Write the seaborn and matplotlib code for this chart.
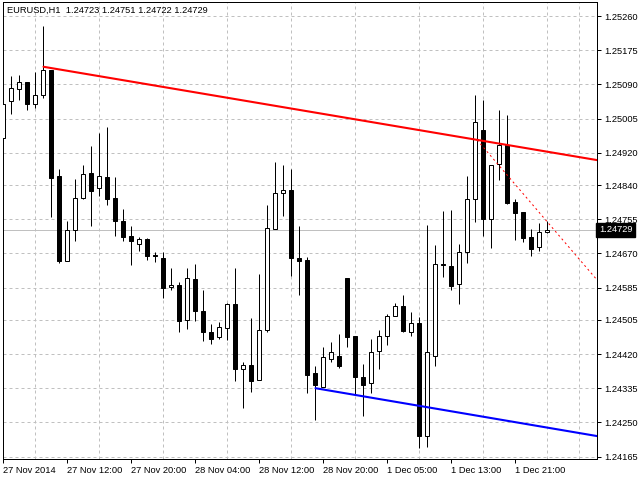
import numpy as np
import seaborn as sns
import matplotlib
matplotlib.use('Agg')
import matplotlib.pyplot as plt
import matplotlib.transforms as mtransforms

chart_title = 'EURUSD,H1  1.24723 1.24751 1.24722 1.24729'
last_price = 1.24729

# hourly candles, 27 Nov 2014 04:00 .. 2 Dec 2014 01:00
opens = [1.24957, 1.25049, 1.25079, 1.25096, 1.25041, 1.25064, 1.25126, 1.24862, 1.24651, 1.24728,
         1.24808, 1.24870, 1.24833, 1.24860, 1.24808, 1.24751, 1.24713, 1.24693, 1.24706, 1.24666,
         1.24659, 1.24587, 1.24592, 1.24505, 1.24606, 1.24527, 1.24475, 1.24462, 1.24485, 1.24544,
         1.24383, 1.24393, 1.24355, 1.24480, 1.24731, 1.24820, 1.24828, 1.24659, 1.24654, 1.24373,
         1.24338, 1.24408, 1.24415, 1.24609, 1.24465, 1.24363, 1.24348, 1.24428, 1.24465, 1.24515,
         1.24539, 1.24475, 1.24497, 1.24216, 1.24415, 1.24644, 1.24639, 1.24594, 1.24674, 1.24805,
         1.24977, 1.24756, 1.24892, 1.24939, 1.24798, 1.24773, 1.24711, 1.24686, 1.24723]
highs = [1.25043, 1.25111, 1.25113, 1.25096, 1.25121, 1.25235, 1.25126, 1.24880, 1.24751, 1.24855,
         1.24890, 1.24937, 1.24969, 1.24984, 1.24860, 1.24780, 1.24738, 1.24711, 1.24708, 1.24674,
         1.24674, 1.24634, 1.24599, 1.24634, 1.24644, 1.24579, 1.24495, 1.24500, 1.24547, 1.24634,
         1.24400, 1.24510, 1.24619, 1.24790, 1.24897, 1.24890, 1.24880, 1.24738, 1.24661, 1.24390,
         1.24437, 1.24450, 1.24470, 1.24609, 1.24465, 1.24395, 1.24457, 1.24480, 1.24520, 1.24547,
         1.24567, 1.24524, 1.24512, 1.24741, 1.24691, 1.24775, 1.24778, 1.24693, 1.24862, 1.25064,
         1.25051, 1.24890, 1.25026, 1.25014, 1.24805, 1.24773, 1.24731, 1.24746, 1.24751]
lows = [1.24955, 1.25016, 1.25051, 1.25026, 1.25031, 1.25056, 1.24760, 1.24646, 1.24651, 1.24701,
        1.24805, 1.24738, 1.24813, 1.24790, 1.24713, 1.24701, 1.24641, 1.24676, 1.24654, 1.24649,
        1.24559, 1.24579, 1.24475, 1.24482, 1.24502, 1.24452, 1.24445, 1.24457, 1.24455, 1.24353,
        1.24286, 1.24326, 1.24355, 1.24475, 1.24731, 1.24763, 1.24614, 1.24567, 1.24323, 1.24256,
        1.24338, 1.24400, 1.24385, 1.24437, 1.24321, 1.24266, 1.24323, 1.24383, 1.24442, 1.24515,
        1.24475, 1.24465, 1.24186, 1.24189, 1.24390, 1.24611, 1.24579, 1.24544, 1.24646, 1.24748,
        1.24713, 1.24683, 1.24852, 1.24793, 1.24703, 1.24698, 1.24664, 1.24676, 1.24722]
closes = [1.25041, 1.25081, 1.25096, 1.25041, 1.25064, 1.25126, 1.24857, 1.24651, 1.24728, 1.24808,
          1.24867, 1.24825, 1.24862, 1.24805, 1.24751, 1.24711, 1.24701, 1.24706, 1.24664, 1.24664,
          1.24584, 1.24592, 1.24502, 1.24609, 1.24527, 1.24475, 1.24457, 1.24487, 1.24544, 1.24383,
          1.24393, 1.24353, 1.24480, 1.24733, 1.24820, 1.24828, 1.24659, 1.24651, 1.24368, 1.24343,
          1.24413, 1.24425, 1.24390, 1.24462, 1.24363, 1.24343, 1.24425, 1.24465, 1.24515, 1.24539,
          1.24477, 1.24497, 1.24216, 1.24425, 1.24644, 1.24641, 1.24589, 1.24674, 1.24805, 1.24997,
          1.24756, 1.24890, 1.24939, 1.24795, 1.24770, 1.24708, 1.24681, 1.24723, 1.24729]

time_labels = ['27 Nov 2014', '27 Nov 12:00', '27 Nov 20:00', '28 Nov 04:00', '28 Nov 12:00',
               '28 Nov 20:00', '1 Dec 05:00', '1 Dec 13:00', '1 Dec 21:00']
label_bars = [0, 8, 16, 24, 32, 40, 48, 56, 64]
price_ticks = [1.25260, 1.25175, 1.25090, 1.25005, 1.24920, 1.24840, 1.24755,
               1.24670, 1.24585, 1.24505, 1.24420, 1.24335, 1.24250, 1.24165]

# trend lines: (bar index, price) anchors, extended to the right edge
red_line_x = [5, 74.2]
red_line_y = [1.25134, 1.24902]
blue_line_x = [39, 74.2]
blue_line_y = [1.24335, 1.24216]
dot_line_x = [59.2, 74.2]
dot_line_y = [1.24952, 1.24604]

sns.set_style('white')
plt.rcParams['font.family'] = ['Liberation Sans', 'DejaVu Sans']
px = 0.72  # one pixel in points at 100 dpi

fig = plt.figure(figsize=(6.4, 4.8), dpi=100)
ax = fig.add_axes([3 / 640, 21 / 480, 594 / 640, 457 / 480])

o = np.array(opens)
h = np.array(highs)
l = np.array(lows)
c = np.array(closes)
bars = np.arange(len(o))
up = c >= o

ax.vlines(bars, l, h, color='black', linewidth=px, zorder=2)
ax.bar(bars, np.abs(c - o), bottom=np.minimum(o, c), width=0.5,
       color=np.where(up, 'white', 'black'), edgecolor='black',
       linewidth=px, zorder=3)

ax.axhline(last_price, color='#c0c0c0', linewidth=px, zorder=1)

sns.lineplot(x=red_line_x, y=red_line_y, ax=ax, color='#ff0000', linewidth=1.5, zorder=4)
sns.lineplot(x=blue_line_x, y=blue_line_y, ax=ax, color='#0000ff', linewidth=1.5, zorder=4)
sns.lineplot(x=dot_line_x, y=dot_line_y, ax=ax, color='#ff0000', linewidth=px,
             linestyle=(0, (2, 3)), zorder=4)

ax.set_xlim(-0.0625, 74.19)
ax.set_ylim(1.24159, 1.25295)

ax.set_xticks(label_bars)
ax.set_xticklabels(time_labels, ha='left')
ax.set_xticks(np.arange(4, 74, 4), minor=True)
ax.yaxis.tick_right()
ax.set_yticks(price_ticks)
ax.set_yticklabels([f'{v:.5f}' for v in price_ticks])

ax.tick_params(axis='both', which='major', labelsize=6.7, colors='black',
               length=3, width=px, direction='out')
ax.tick_params(axis='x', which='major', pad=2, bottom=True)
ax.tick_params(axis='y', which='major', pad=2, right=True, left=False)
ax.tick_params(axis='x', which='minor', length=0)

ax.grid(False)
ax.grid(True, axis='x', which='minor', color='#c0c0c0', linewidth=px,
        linestyle=(0, (3, 3)), zorder=0)
ax.grid(True, axis='y', which='major', color='#c0c0c0', linewidth=px,
        linestyle=(0, (3, 3)), zorder=0)
ax.set_axisbelow(True)

for side in ['left', 'right', 'top', 'bottom']:
    ax.spines[side].set_visible(True)
    ax.spines[side].set_color('black')
    ax.spines[side].set_linewidth(px)

ax.set_xlabel('')
ax.set_ylabel('')

# price tag for the last close
trans = mtransforms.blended_transform_factory(ax.transAxes, ax.transData)
ax.text(1.003, last_price, f'{last_price:.5f}', transform=trans, ha='left', va='center',
        fontsize=6.7, color='white', zorder=6, clip_on=False,
        bbox=dict(boxstyle='square,pad=0.25', facecolor='black', edgecolor='black'))

fig.text(7 / 640, 1 - 10.7 / 480, chart_title, ha='left', va='center',
         fontsize=6.7, color='black')

fig.savefig('out.png', dpi=100)
